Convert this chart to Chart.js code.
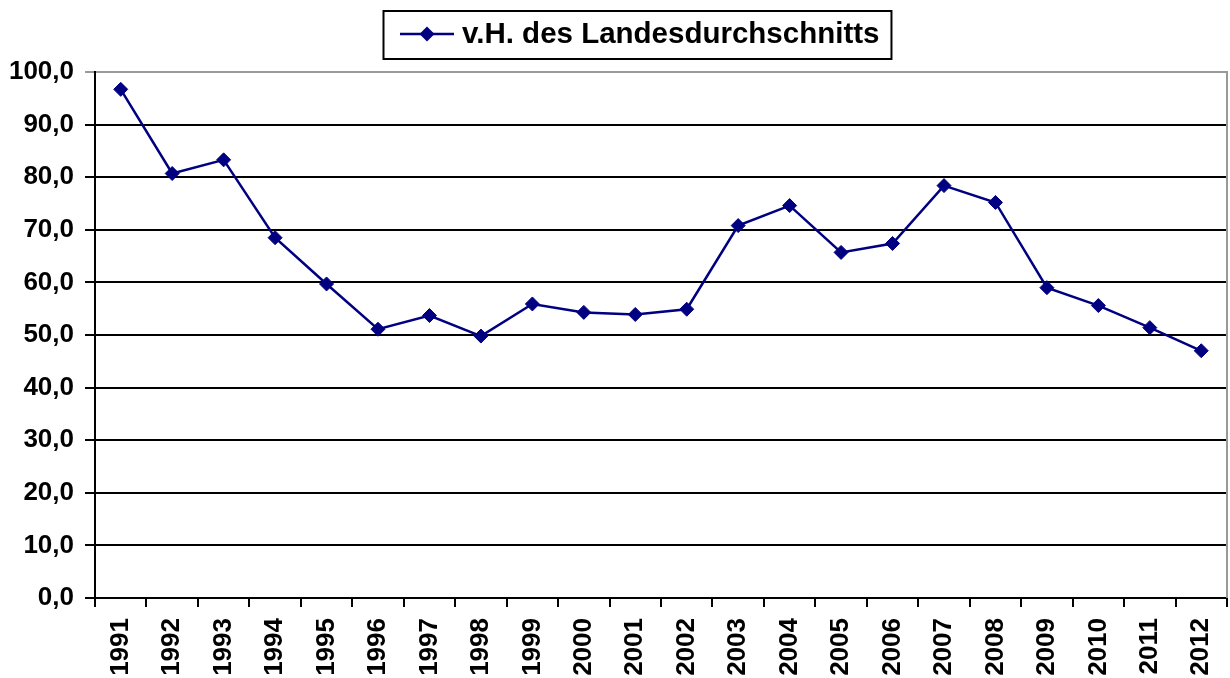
<!DOCTYPE html>
<html>
<head>
<meta charset="utf-8">
<script src="https://cdn.jsdelivr.net/npm/chart.js@4/dist/chart.umd.min.js"></script>
<style>
  html, body { margin: 0; padding: 0; background: #fff; overflow: hidden; }
  #wrap { width: 1230px; height: 678px; overflow: hidden; }
  #c { display: block; }
</style>
</head>
<body>
<div id="wrap"><canvas id="c" width="1235" height="678"></canvas></div>
<script>
const years = ['1991','1992','1993','1994','1995','1996','1997','1998','1999','2000','2001','2002','2003','2004','2005','2006','2007','2008','2009','2010','2011','2012'];
const seriesLabel = 'v.H. des Landesdurchschnitts';
const values = [96.7, 80.7, 83.3, 68.5, 59.7, 51.1, 53.7, 49.8, 55.9, 54.3, 53.9, 54.9, 70.8, 74.6, 65.7, 67.4, 78.4, 75.2, 59.0, 55.6, 51.4, 47.0];
const yMin = 0, yMax = 100, yStep = 10;

const FONT = "'Liberation Sans', Arial, sans-serif";
const NAVY = '#000080';

const frameAndLegend = {
  id: 'frameAndLegend',
  afterDraw(chart) {
    const ctx = chart.ctx;
    const a = chart.chartArea;
    ctx.save();
    ctx.strokeStyle = '#999';
    ctx.lineWidth = 2;
    ctx.beginPath();
    ctx.moveTo(a.right, a.top - 1);
    ctx.lineTo(a.right, a.bottom);
    ctx.stroke();
    const label = chart.data.datasets[0].label;
    ctx.font = 'bold 29.5px ' + FONT;
    const textX = 462;
    const tw = ctx.measureText(label).width;
    const boxL = 383.5, boxT = 11, boxR = textX + tw + 12, boxB = 59;
    ctx.fillStyle = '#fff';
    ctx.fillRect(boxL, boxT, boxR - boxL, boxB - boxT);
    ctx.strokeStyle = '#000';
    ctx.lineWidth = 2;
    ctx.strokeRect(boxL, boxT, boxR - boxL, boxB - boxT);
    const cy = 34;
    ctx.strokeStyle = NAVY;
    ctx.lineWidth = 2.5;
    ctx.beginPath();
    ctx.moveTo(400, cy);
    ctx.lineTo(454, cy);
    ctx.stroke();
    ctx.fillStyle = NAVY;
    ctx.beginPath();
    ctx.moveTo(427, cy - 7.5);
    ctx.lineTo(434.5, cy);
    ctx.lineTo(427, cy + 7.5);
    ctx.lineTo(419.5, cy);
    ctx.closePath();
    ctx.fill();
    ctx.fillStyle = '#000';
    ctx.textBaseline = 'middle';
    ctx.textAlign = 'left';
    ctx.fillText(label, textX, cy + 1);
    ctx.restore();
  }
};

new Chart(document.getElementById('c'), {
  type: 'line',
  data: {
    labels: years,
    datasets: [{
      label: seriesLabel,
      data: values,
      borderColor: NAVY,
      backgroundColor: NAVY,
      borderWidth: 2.5,
      pointStyle: 'rectRot',
      pointRadius: 7,
      pointBorderWidth: 1,
      pointBackgroundColor: NAVY,
      pointBorderColor: NAVY,
      tension: 0,
      fill: false
    }]
  },
  options: {
    responsive: false,
    animation: false,
    devicePixelRatio: 1,
    layout: { padding: { top: 72, right: 3, left: 0, bottom: 0 } },
    plugins: {
      legend: { display: false },
      tooltip: { enabled: false },
      title: { display: false }
    },
    scales: {
      x: {
        type: 'category',
        offset: true,
        grid: {
          offset: true,
          drawOnChartArea: false,
          drawTicks: true,
          tickLength: 9,
          color: '#000',
          lineWidth: 2
        },
        border: { display: true, color: '#000', width: 2 },
        ticks: {
          autoSkip: false,
          minRotation: 90,
          maxRotation: 90,
          padding: 11,
          color: '#000',
          font: { family: FONT, size: 26, weight: 'bold' }
        },
        afterFit(s) { s.height = 80; s.paddingRight = 0; s.paddingLeft = 0; }
      },
      y: {
        min: yMin,
        max: yMax,
        ticks: {
          stepSize: yStep,
          padding: 11,
          color: '#000',
          font: { family: FONT, size: 26, weight: 'bold' },
          callback: (v) => Number(v).toFixed(1).replace('.', ',')
        },
        grid: {
          color: (c) => (c.tick && c.tick.value === yMax) ? '#999' : '#000',
          lineWidth: 2,
          tickLength: 10,
          drawTicks: true
        },
        border: { display: true, color: '#000', width: 2 },
        afterFit(s) { s.width = 95; s.paddingTop = 0; s.paddingBottom = 0; }
      }
    }
  },
  plugins: [frameAndLegend]
});
</script>
</body>
</html>
